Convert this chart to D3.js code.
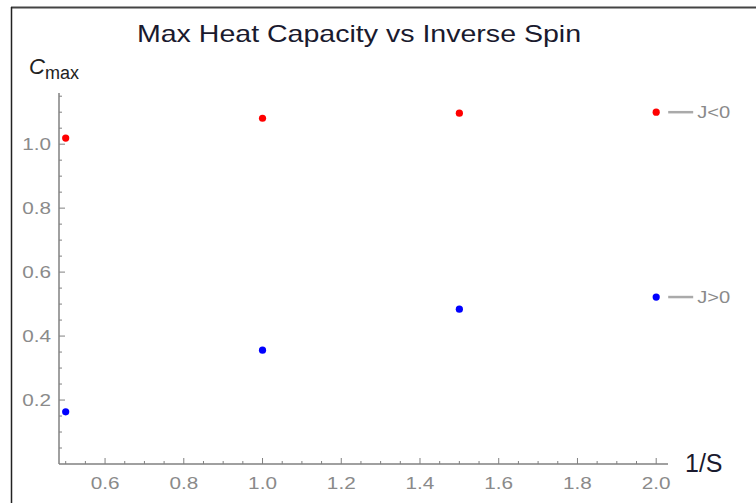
<!DOCTYPE html>
<meta charset="utf-8">
<style>
body { margin: 0; background: #fff; }
text { font-family: "Liberation Sans", Arial, sans-serif; }
.tick text { fill: #8a8a8a; font-size: 17px; }
</style>
<body>
<script src="https://cdn.jsdelivr.net/npm/d3@7"></script>
<script>

var width = 756,
    height = 503;

// data
var inverseSpin = [0.5, 1.0, 1.5, 2.0];
var cmaxNeg = [1.019, 1.081, 1.097, 1.100];   // J<0
var cmaxPos = [0.163, 0.356, 0.484, 0.522];   // J>0
var seriesNames = ["J<0", "J>0"];
var xTicks = [0.6, 0.8, 1.0, 1.2, 1.4, 1.6, 1.8, 2.0];
var yTicks = [0.2, 0.4, 0.6, 0.8, 1.0];

// the original text is drawn a little wide
var stretch = 1.22;

var x = d3.scaleLinear()
    .domain([0.483, 2.03])
    .range([59, 668]);

var y = d3.scaleLinear()
    .domain([0, 1.16])
    .range([464, 93]);

var svg = d3.select("body").append("svg")
    .attr("width", width)
    .attr("height", height);

// frame
svg.append("line")
    .attr("x1", 11).attr("x2", width).attr("y1", 7.5).attr("y2", 7.5)
    .attr("stroke", "#444").attr("stroke-width", 2);
svg.append("line")
    .attr("x1", 11.5).attr("x2", 11.5).attr("y1", 7).attr("y2", height)
    .attr("stroke", "#222").attr("stroke-width", 1.5);

/*
  axes - major ticks with labels, minor ticks without
*/

var axisColor = "#808080";

var minorX = d3.range(0.5, 2.001, 0.05).filter(function(v) {
  return !xTicks.some(function(t) { return Math.abs(t - v) < 1e-6; });
});
var minorY = d3.range(0.05, 1.151, 0.05).filter(function(v) {
  return !yTicks.some(function(t) { return Math.abs(t - v) < 1e-6; });
});

var xAxis = svg.append("g")
    .attr("transform", "translate(0," + y(0) + ")");

xAxis.append("line")
    .attr("x1", x.range()[0]).attr("x2", x.range()[1])
    .attr("stroke", axisColor).attr("stroke-width", 1.5);

xAxis.selectAll(".minor")
    .data(minorX)
  .enter().append("line")
    .attr("class", "minor")
    .attr("x1", x).attr("x2", x)
    .attr("y1", 0).attr("y2", -3)
    .attr("stroke", axisColor);

var xt = xAxis.selectAll(".tick")
    .data(xTicks)
  .enter().append("g")
    .attr("class", "tick")
    .attr("transform", function(d) { return "translate(" + x(d) + ",0)"; });

xt.append("line").attr("y2", -6).attr("stroke", axisColor);
xt.append("text")
    .attr("transform", "translate(0,25) scale(" + stretch + ",1)")
    .attr("text-anchor", "middle")
    .text(function(d) { return d.toFixed(1); });

var yAxis = svg.append("g")
    .attr("transform", "translate(" + x.range()[0] + ",0)");

yAxis.append("line")
    .attr("y1", y.range()[0]).attr("y2", y.range()[1])
    .attr("stroke", axisColor).attr("stroke-width", 1.5);

yAxis.selectAll(".minor")
    .data(minorY)
  .enter().append("line")
    .attr("class", "minor")
    .attr("y1", y).attr("y2", y)
    .attr("x1", 0).attr("x2", 3)
    .attr("stroke", axisColor);

var yt = yAxis.selectAll(".tick")
    .data(yTicks)
  .enter().append("g")
    .attr("class", "tick")
    .attr("transform", function(d) { return "translate(0," + y(d) + ")"; });

yt.append("line").attr("x2", 6).attr("stroke", axisColor);
yt.append("text")
    .attr("transform", "translate(-8,0) scale(" + stretch + ",1)")
    .attr("dy", "0.35em")
    .attr("text-anchor", "end")
    .text(function(d) { return d.toFixed(1); });

/*
  points
*/

var series = [
  { name: seriesNames[0], values: cmaxNeg, color: "#ff0000" },
  { name: seriesNames[1], values: cmaxPos, color: "#0000ff" }
];

series.forEach(function(s) {
  svg.append("g").selectAll("circle")
      .data(s.values)
    .enter().append("circle")
      .attr("cx", function(d, i) { return x(inverseSpin[i]); })
      .attr("cy", function(d) { return y(d); })
      .attr("r", 3.6)
      .attr("fill", s.color);

  // label at the last point
  var last = s.values[s.values.length - 1];
  var lx = x(inverseSpin[inverseSpin.length - 1]);
  svg.append("line")
      .attr("x1", lx + 12).attr("x2", lx + 37)
      .attr("y1", y(last)).attr("y2", y(last))
      .attr("stroke", "#aaa").attr("stroke-width", 2.5);
  svg.append("text")
      .attr("transform", "translate(" + (lx + 41) + "," + y(last) + ") scale(" + stretch + ",1)")
      .attr("dy", "0.35em")
      .attr("fill", "#8a8a8a")
      .style("font-size", "16.5px")
      .text(s.name);
});

/*
  titles
*/

svg.append("text")
    .attr("transform", "translate(359,42) scale(1.19,1)")
    .attr("text-anchor", "middle")
    .attr("fill", "#1a1a2e")
    .style("font-size", "24px")
    .text("Max Heat Capacity vs Inverse Spin");

var yl = svg.append("text")
    .attr("x", 29)
    .attr("y", 74)
    .attr("fill", "#222")
    .style("font-size", "22px");
yl.append("tspan").style("font-style", "italic").text("C");
yl.append("tspan").attr("dy", 5).style("font-size", "18px").text("max");

svg.append("text")
    .attr("x", 685)
    .attr("y", 472)
    .attr("fill", "#1a1a2e")
    .style("font-size", "25px")
    .text("1/S");

</script>
